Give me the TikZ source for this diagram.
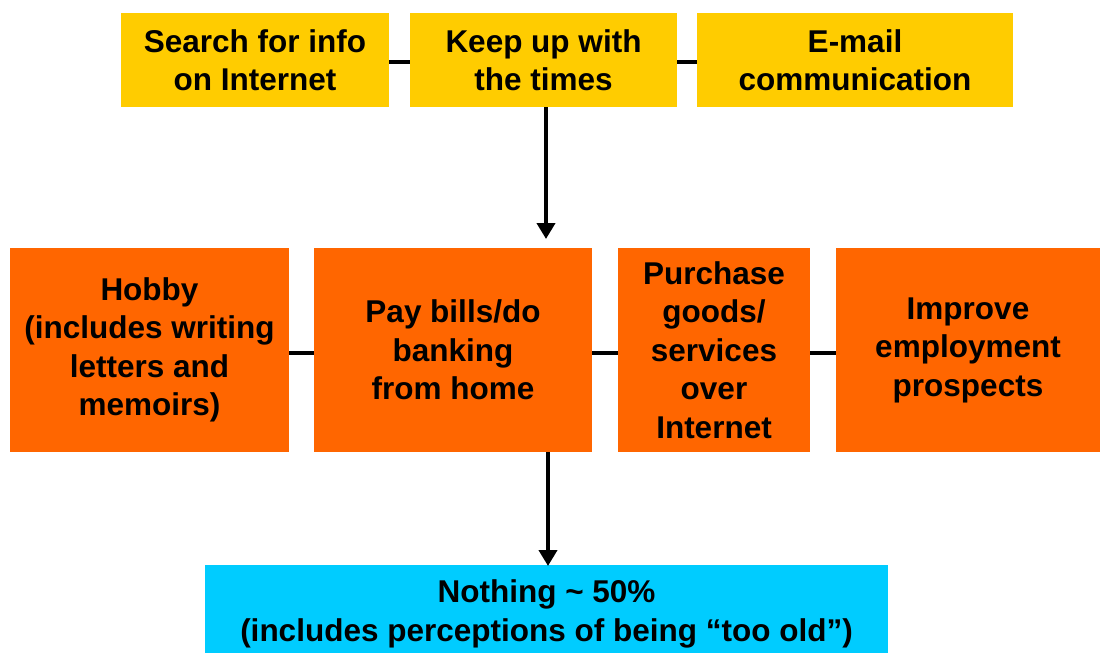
\documentclass[tikz,border=0pt]{standalone}
\usepackage{fontspec}
\setmainfont{Liberation Sans}
\usetikzlibrary{arrows.meta}

\definecolor{boxyellow}{HTML}{FFCC00}
\definecolor{boxorange}{HTML}{FF6600}
\definecolor{boxcyan}{HTML}{00CCFF}

\begin{document}
\begin{tikzpicture}[x=1pt, y=-1pt,
  box/.style={inner sep=0, align=center, font=\fontsize{31.5}{38.5}\selectfont\bfseries,
    execute at begin node=\rule{0pt}{29pt}},
  yellowbox/.style={box, fill=boxyellow, minimum height=94pt},
  orangebox/.style={box, fill=boxorange, minimum height=204pt},
  cyanbox/.style={box, fill=boxcyan, minimum height=98pt},
  link/.style={line width=4pt},
  arrow/.style={line width=4pt, -{Triangle[width=18pt,length=16pt]}}]
\useasboundingbox (0,0) rectangle (1101,653);
\clip (0,0) rectangle (1101,653);

\node[yellowbox, minimum width=268pt] (search) at (255, 60) {Search for info\\on Internet};
\node[yellowbox, minimum width=267pt] (keep) at (543.5, 60) {Keep up with\\the times};
\node[yellowbox, minimum width=316pt] (email) at (855, 60) {E-mail\\communication};

\node[orangebox, minimum width=279pt] (hobby) at (149.5, 350) {Hobby\\(includes writing\\letters and\\memoirs)};
\node[orangebox, minimum width=278pt] (bills) at (453, 350) {Pay bills/do\\banking\\from home};
\node[orangebox, minimum width=192pt] (purchase) at (714, 350) {Purchase\\goods/\\services\\over\\Internet};
\node[orangebox, minimum width=264pt] (improve) at (968, 350) {Improve\\employment\\prospects};

\node[cyanbox, minimum width=683pt] (nothing) at (546.5, 614) {Nothing \textasciitilde{} 50\%\\(includes perceptions of being “too old”)};

\draw[link] (search.east |- 0,62) -- (keep.west |- 0,62);
\draw[link] (keep.east |- 0,62) -- (email.west |- 0,62);
\draw[link] (hobby.east |- 0,353) -- (bills.west |- 0,353);
\draw[link] (bills.east |- 0,353) -- (purchase.west |- 0,353);
\draw[link] (purchase.east |- 0,353) -- (improve.west |- 0,353);

\coordinate (tipa) at (546, 239);
\coordinate (tipb) at (548, 566);
\draw[arrow] (keep.south -| tipa) -- (tipa);
\draw[arrow] (bills.south -| tipb) -- (tipb);

\end{tikzpicture}
\end{document}
